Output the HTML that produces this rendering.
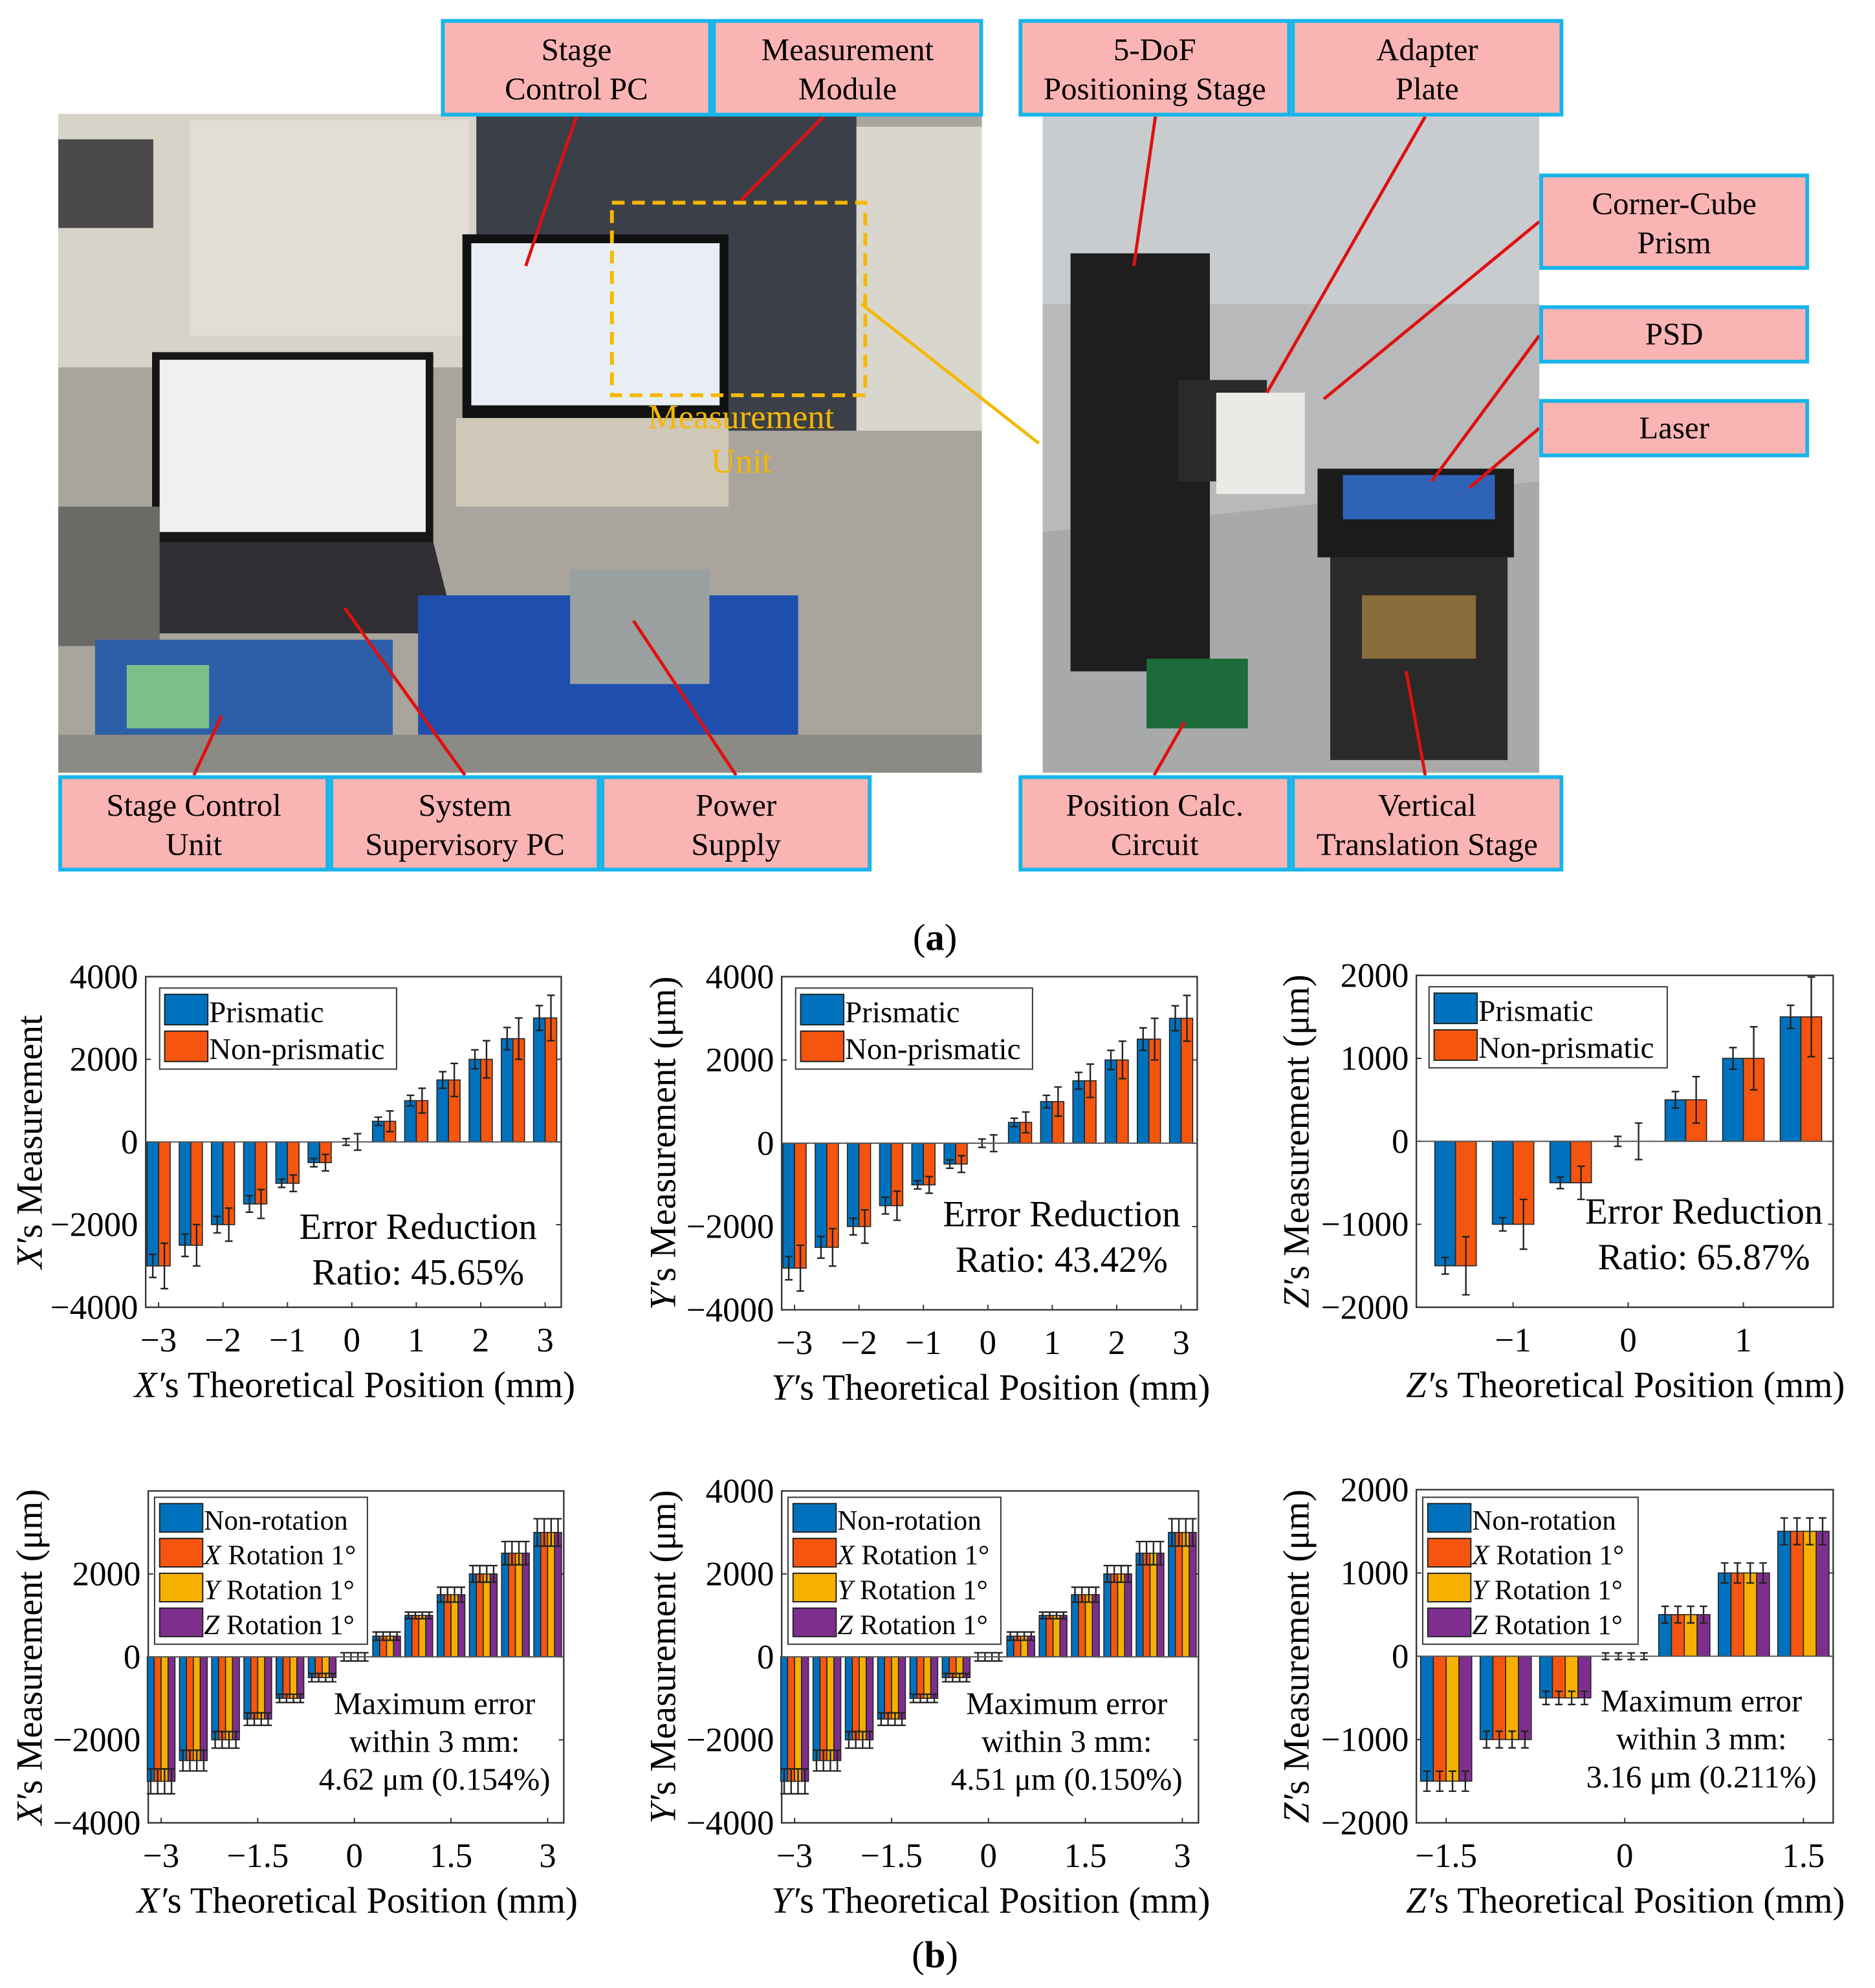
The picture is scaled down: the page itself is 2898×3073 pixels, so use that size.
<!DOCTYPE html>
<html><head><meta charset="utf-8"><style>
html,body{margin:0;padding:0;background:#fff;}
svg{display:block;}
svg text{font-family:'Liberation Serif','Times New Roman',serif;}
</style></head><body>
<svg id="fig" width="2898" height="3073" viewBox="0 0 1480 1569.4" font-family="Liberation Serif, serif" xmlns="http://www.w3.org/2000/svg">
<g>
 <rect x="46" y="90" width="729" height="520" fill="#a9a49c"/>
 <rect x="46" y="90" width="330" height="200" fill="#d8d3c8"/>
 <rect x="46" y="110" width="75" height="70" fill="#4a4a4a"/>
 <rect x="150" y="95" width="220" height="170" fill="#e3ded4"/>
 <rect x="376" y="90" width="300" height="250" fill="#3b3f48"/>
 <rect x="676" y="100" width="99" height="240" fill="#d9d6ce"/>
 <rect x="365" y="185" width="210" height="145" fill="#111"/>
 <rect x="372" y="192" width="196" height="128" fill="#e8eef4"/>
 <rect x="120" y="278" width="222" height="150" fill="#151515"/>
 <rect x="126" y="284" width="210" height="136" fill="#f0f0f0"/>
 <polygon points="120,428 342,428 360,500 70,500" fill="#2f2f33"/>
 <rect x="46" y="400" width="80" height="110" fill="#6b6b66"/>
 <rect x="75" y="505" width="235" height="100" fill="#2d5fa8"/>
 <rect x="100" y="525" width="65" height="50" fill="#7fbf8a"/>
 <rect x="330" y="470" width="300" height="140" fill="#1f4fae"/>
 <rect x="46" y="580" width="729" height="30" fill="#8c8a85"/>
 <rect x="360" y="330" width="215" height="70" fill="#cfc7b8"/>
 <rect x="450" y="450" width="110" height="90" fill="#9aa0a0"/>
 <rect x="483" y="160" width="200" height="152" fill="none" stroke="#f5b800" stroke-width="3" stroke-dasharray="10,6"/>
 <text x="585" y="338" font-size="27" fill="#f5b800" text-anchor="middle">Measurement</text>
 <text x="585" y="373" font-size="27" fill="#f5b800" text-anchor="middle">Unit</text>
</g>
<g>
 <rect x="823" y="90" width="392" height="520" fill="#b7b9bb"/>
 <rect x="823" y="90" width="392" height="150" fill="#c9cccf"/>
 <polygon points="823,420 1215,380 1215,610 823,610" fill="#a8aaa9"/>
 <rect x="845" y="200" width="110" height="330" fill="#1e1e1e"/>
 <rect x="930" y="300" width="70" height="80" fill="#2a2a2a"/>
 <rect x="960" y="310" width="70" height="80" fill="#eceae6"/>
 <rect x="1040" y="370" width="155" height="70" fill="#1b1b1b"/>
 <rect x="1060" y="375" width="120" height="35" fill="#2f63b8"/>
 <rect x="1050" y="440" width="140" height="160" fill="#2a2a2a"/>
 <rect x="1075" y="470" width="90" height="50" fill="#8a6b3a"/>
 <rect x="905" y="520" width="80" height="55" fill="#1d6a3a"/>
</g>
<g stroke="#e01010" stroke-width="2.5" fill="none">
 <line x1="455" y1="92" x2="415" y2="210"/><line x1="650" y1="92" x2="585" y2="158"/>
 <line x1="912" y1="92" x2="895" y2="210"/><line x1="1125" y1="92" x2="1000" y2="310"/>
 <line x1="1215" y1="175" x2="1045" y2="315"/><line x1="1215" y1="265" x2="1130" y2="380"/>
 <line x1="1215" y1="338" x2="1160" y2="385"/>
 <line x1="153" y1="612" x2="175" y2="565"/><line x1="367" y1="612" x2="272" y2="480"/>
 <line x1="581" y1="612" x2="500" y2="490"/><line x1="911" y1="612" x2="935" y2="570"/>
 <line x1="1125" y1="612" x2="1110" y2="530"/>
 <line x1="680" y1="240" x2="820" y2="350" stroke="#f5b800"/>
</g>
<g id="labels"></g>
<text x="738" y="750" font-size="30" text-anchor="middle">(<tspan font-weight="bold">a</tspan>)</text>
<text x="738" y="1553" font-size="30" text-anchor="middle">(<tspan font-weight="bold">b</tspan>)</text>
<g id="charts"></g>
</svg>
<script>
const NS="http://www.w3.org/2000/svg";
function mk(tag,attrs,parent){const e=document.createElementNS(NS,tag);for(const k in attrs)e.setAttribute(k,attrs[k]);if(tag==='text')e.setAttribute('font-family','Liberation Serif, serif');parent.appendChild(e);return e;}
const boxLabels=[["Stage","Control PC",348,15,214,77],["Measurement","Module",562,15,214,77],["5-DoF","Positioning Stage",804,15,215,77],["Adapter","Plate",1019,15,215,77],["Corner-Cube","Prism",1215,137,213,76],["PSD","",1215,241,213,46],["Laser","",1215,315,213,46],["Stage Control","Unit",46,612,214,76],["System","Supervisory PC",260,612,214,76],["Power","Supply",474,612,214,76],["Position Calc.","Circuit",804,612,215,76],["Vertical","Translation Stage",1019,612,215,76]];
const LG=document.getElementById('labels');
boxLabels.forEach(b=>{
 const g=mk('g',{},LG);
 
 
 mk('rect',{x:b[2]+1.5,y:b[3]+1.5,width:b[4]-3,height:b[5]-3,fill:'#fbb4b4',stroke:'#16b5ea','stroke-width':3},g);
 const cx=b[2]+b[4]/2;
 if(b[1]){const t1=mk('text',{x:cx,y:b[3]+b[5]/2-6,'font-size':25,'text-anchor':'middle'},g);t1.textContent=b[0];
  const t2=mk('text',{x:cx,y:b[3]+b[5]/2+25,'font-size':25,'text-anchor':'middle'},g);t2.textContent=b[1];}
 else{const t=mk('text',{x:cx,y:b[3]+b[5]/2+8,'font-size':25,'text-anchor':'middle'},g);t.textContent=b[0];}
});

// ---- chart data ----
const cats7=[-3,-2.5,-2,-1.5,-1,-0.5,0,0.5,1,1.5,2,2.5,3];
const cats3=[-1.5,-1,-0.5,0,0.5,1,1.5];
const c1Pris=[-3000,-2500,-2000,-1500,-1000,-500,0,500,1000,1500,2000,2500,3000];
const c1PrisErr=[280,270,200,200,100,100,80,100,130,200,230,270,300];
const c1Non=[-3000,-2500,-2000,-1500,-1000,-500,0,500,1000,1500,2000,2500,3000];
const c1NonErr=[550,500,400,350,200,200,200,250,300,400,450,500,550];
const c2Pris=[-3000,-2500,-2000,-1500,-1000,-500,0,500,1000,1500,2000,2500,3000];
const c2PrisErr=[280,260,200,200,100,100,100,100,150,200,230,270,300];
const c2Non=[-3000,-2500,-2000,-1500,-1000,-500,0,500,1000,1500,2000,2500,3000];
const c2NonErr=[550,450,400,350,200,200,200,250,350,400,450,500,550];
const c3Pris=[-1500,-1000,-500,0,500,1000,1500];
const c3PrisErr=[100,80,70,60,100,130,140];
const c3Non=[-1500,-1000,-500,0,500,1000,1500];
const c3NonErr=[350,300,200,220,280,380,480];
const rotVals=[-3000,-2500,-2000,-1500,-1000,-500,0,500,1000,1500,2000,2500,3000];
const rotErr=[300,250,200,150,100,100,100,100,80,180,200,280,330];
const rotZVals=[-1500,-1000,-500,0,500,1000,1500];
const rotZErr=[120,100,80,40,100,120,160];
const ticks8=[-4000,-2000,0,2000,4000];
const ticks4=[-2000,-1000,0,1000,2000];
const xt1=[-3,-2,-1,0,1,2,3], xt3=[-1,0,1], xt4=[-3,-1.5,0,1.5,3], xt6=[-1.5,0,1.5];
const COL=['#0072BD','#F5550F','#F5B000','#7E2F8E'];

function chart(o){
 const g=mk('g',{},document.getElementById('charts'));
 
 
 const {L,R,T,B,ymin,ymax,xmin,xmax}=o;
 const X=v=>L+(v-xmin)/(xmax-xmin)*(R-L);
 const Y=v=>B-(v-ymin)/(ymax-ymin)*(B-T);
 mk('rect',{x:L,y:T,width:R-L,height:B-T,fill:'#fff',stroke:'#333','stroke-width':1.2},g);
 o.yticks.forEach((v,i)=>{
  if(o.hideTop && v===ymax) return;
  mk('line',{x1:L,x2:L+4,y1:Y(v),y2:Y(v),stroke:'#333'},g);mk('line',{x1:R,x2:R-4,y1:Y(v),y2:Y(v),stroke:'#333'},g);
  const t=mk('text',{x:L-6,y:Y(v)+9,'font-size':27,'text-anchor':'end'},g);
  
  t.textContent=(v<0?'\u2212'+(-v):String(v));
 });
 o.xticks.forEach(v=>{
  mk('line',{x1:X(v),x2:X(v),y1:B,y2:B-4,stroke:'#333'},g);
  const t=mk('text',{x:X(v),y:B+35,'font-size':27,'text-anchor':'middle'},g);
  
  t.textContent=(v<0?'\u2212'+(-v):String(v));
 });
 const step=(X(o.cats[1])-X(o.cats[0]));
 const n=o.series.length, gw=step*(n===2?0.72:0.86), bw=gw/n;
 o.cats.forEach((c,i)=>{
  o.series.forEach((s,j)=>{
   const x=X(c)-gw/2+j*bw, v=s.vals[i];
   const r=mk('rect',{x:x,y:Math.min(Y(v),Y(0)),width:bw,height:Math.abs(Y(v)-Y(0)),fill:COL[j],stroke:'#222','stroke-width':0.8},g);
   
   
   const cx=x+bw/2,e=s.err[i];
   mk('path',{d:`M${cx} ${Y(v+e)}V${Y(v-e)}M${cx-3} ${Y(v+e)}h6M${cx-3} ${Y(v-e)}h6`,stroke:'#222','stroke-width':1.2,fill:'none'},g);
  });
 });
 mk('line',{x1:L,x2:R,y1:Y(0),y2:Y(0),stroke:'#555','stroke-width':1},g);
 const lg=mk('g',{},g);
 mk('rect',{x:o.lx,y:o.ly,width:o.lw,height:o.series.length*(o.lh)+6,fill:'#fff',stroke:'#333','stroke-width':1},lg);
 o.series.forEach((s,j)=>{
  const yy=o.ly+4+j*o.lh;
  const e=mk('g',{},lg);
  mk('rect',{x:o.lx+4,y:yy+1,width:34,height:o.lh-5,fill:COL[j],stroke:'#222'},e);
  const t=mk('text',{x:o.lx+39,y:yy+o.lh-6,'font-size':o.lf},e);
  if(s.ax){const it=mk('tspan',{'font-style':'italic'},t);it.textContent=s.ax;const r2=mk('tspan',{},t);r2.textContent=' Rotation 1°';}
  else t.textContent=s.label;
 });
 o.note.forEach((line,k)=>{const t=mk('text',{x:o.nx,y:o.ny+k*o.nd,'font-size':o.nf,'text-anchor':'middle'},g);
  t.textContent=line;});
 const yl=mk('text',{x:0,y:0,'font-size':29,'text-anchor':'middle',transform:`translate(${o.ylx},${(T+B)/2}) rotate(-90)`},g);
 
 const yi=mk('tspan',{'font-style':'italic'},yl);yi.textContent=o.axis+'′';const yr=mk('tspan',{},yl);yr.textContent='s Measurement'+(o.um?' (μm)':'');
 const xl=mk('text',{x:o.xlx,y:B+71,'font-size':29,'text-anchor':'middle'},g);
 
 const xi=mk('tspan',{'font-style':'italic'},xl);xi.textContent=o.axis+'′';const xr=mk('tspan',{},xl);xr.textContent='s Theoretical Position (mm)';
}
const two=(a,ae,b,be)=>[{key:'prismatic',label:'Prismatic',vals:a,err:ae},{key:'non-prismatic',label:'Non-prismatic',vals:b,err:be}];
const four=(v,e)=>[{key:'non-rotation',label:'Non-rotation',vals:v,err:e},{key:'x-rot',ax:'X',vals:v,err:e},{key:'y-rot',ax:'Y',vals:v,err:e},{key:'z-rot',ax:'Z',vals:v,err:e}];
chart({name:'chart-x-prismatic',L:115,R:443,T:771,B:1032,ymin:-4000,ymax:4000,xmin:-3.2,xmax:3.25,cats:cats7,series:two(c1Pris,c1PrisErr,c1Non,c1NonErr),yticks:ticks8,xticks:xt1,lx:126,ly:780,lw:187,lh:29,lf:24,note:['Error Reduction','Ratio: 45.65%'],nx:330,ny:978,nd:36,nf:29,ylx:33,xlx:280,axis:'X',um:false});
chart({name:'chart-y-prismatic',L:617,R:945,T:771,B:1034,ymin:-4000,ymax:4000,xmin:-3.2,xmax:3.25,cats:cats7,series:two(c2Pris,c2PrisErr,c2Non,c2NonErr),yticks:ticks8,xticks:xt1,lx:628,ly:780,lw:187,lh:29,lf:24,note:['Error Reduction','Ratio: 43.42%'],nx:838,ny:968,nd:36,nf:29,ylx:533,xlx:782,axis:'Y',um:true});
chart({name:'chart-z-prismatic',L:1118,R:1447,T:770,B:1032,ymin:-2000,ymax:2000,xmin:-1.84,xmax:1.78,cats:cats3,series:two(c3Pris,c3PrisErr,c3Non,c3NonErr),yticks:ticks4,xticks:xt3,lx:1128,ly:779,lw:188,lh:29,lf:24,note:['Error Reduction','Ratio: 65.87%'],nx:1345,ny:966,nd:36,nf:29,ylx:1033,xlx:1283,axis:'Z',um:true});
chart({name:'chart-x-rotation',L:117,R:445,T:1177,B:1439,ymin:-4000,ymax:4000,xmin:-3.2,xmax:3.25,cats:cats7,series:four(rotVals,rotErr),yticks:ticks8,hideTop:true,xticks:xt4,lx:122,ly:1182,lw:168,lh:27.5,lf:22,note:['Maximum error','within 3 mm:','4.62 μm (0.154%)'],nx:343,ny:1353,nd:30,nf:25,ylx:33,xlx:282,axis:'X',um:true});
chart({name:'chart-y-rotation',L:617,R:946,T:1177,B:1439,ymin:-4000,ymax:4000,xmin:-3.2,xmax:3.25,cats:cats7,series:four(rotVals,rotErr),yticks:ticks8,xticks:xt4,lx:622,ly:1182,lw:168,lh:27.5,lf:22,note:['Maximum error','within 3 mm:','4.51 μm (0.150%)'],nx:842,ny:1353,nd:30,nf:25,ylx:533,xlx:782,axis:'Y',um:true});
chart({name:'chart-z-rotation',L:1118,R:1447,T:1176,B:1439,ymin:-2000,ymax:2000,xmin:-1.75,xmax:1.75,cats:cats3,series:four(rotZVals,rotZErr),yticks:ticks4,xticks:xt6,lx:1123,ly:1182,lw:170,lh:27.5,lf:22,note:['Maximum error','within 3 mm:','3.16 μm (0.211%)'],nx:1343,ny:1351,nd:30,nf:25,ylx:1033,xlx:1283,axis:'Z',um:true});
</script>
</body></html>
